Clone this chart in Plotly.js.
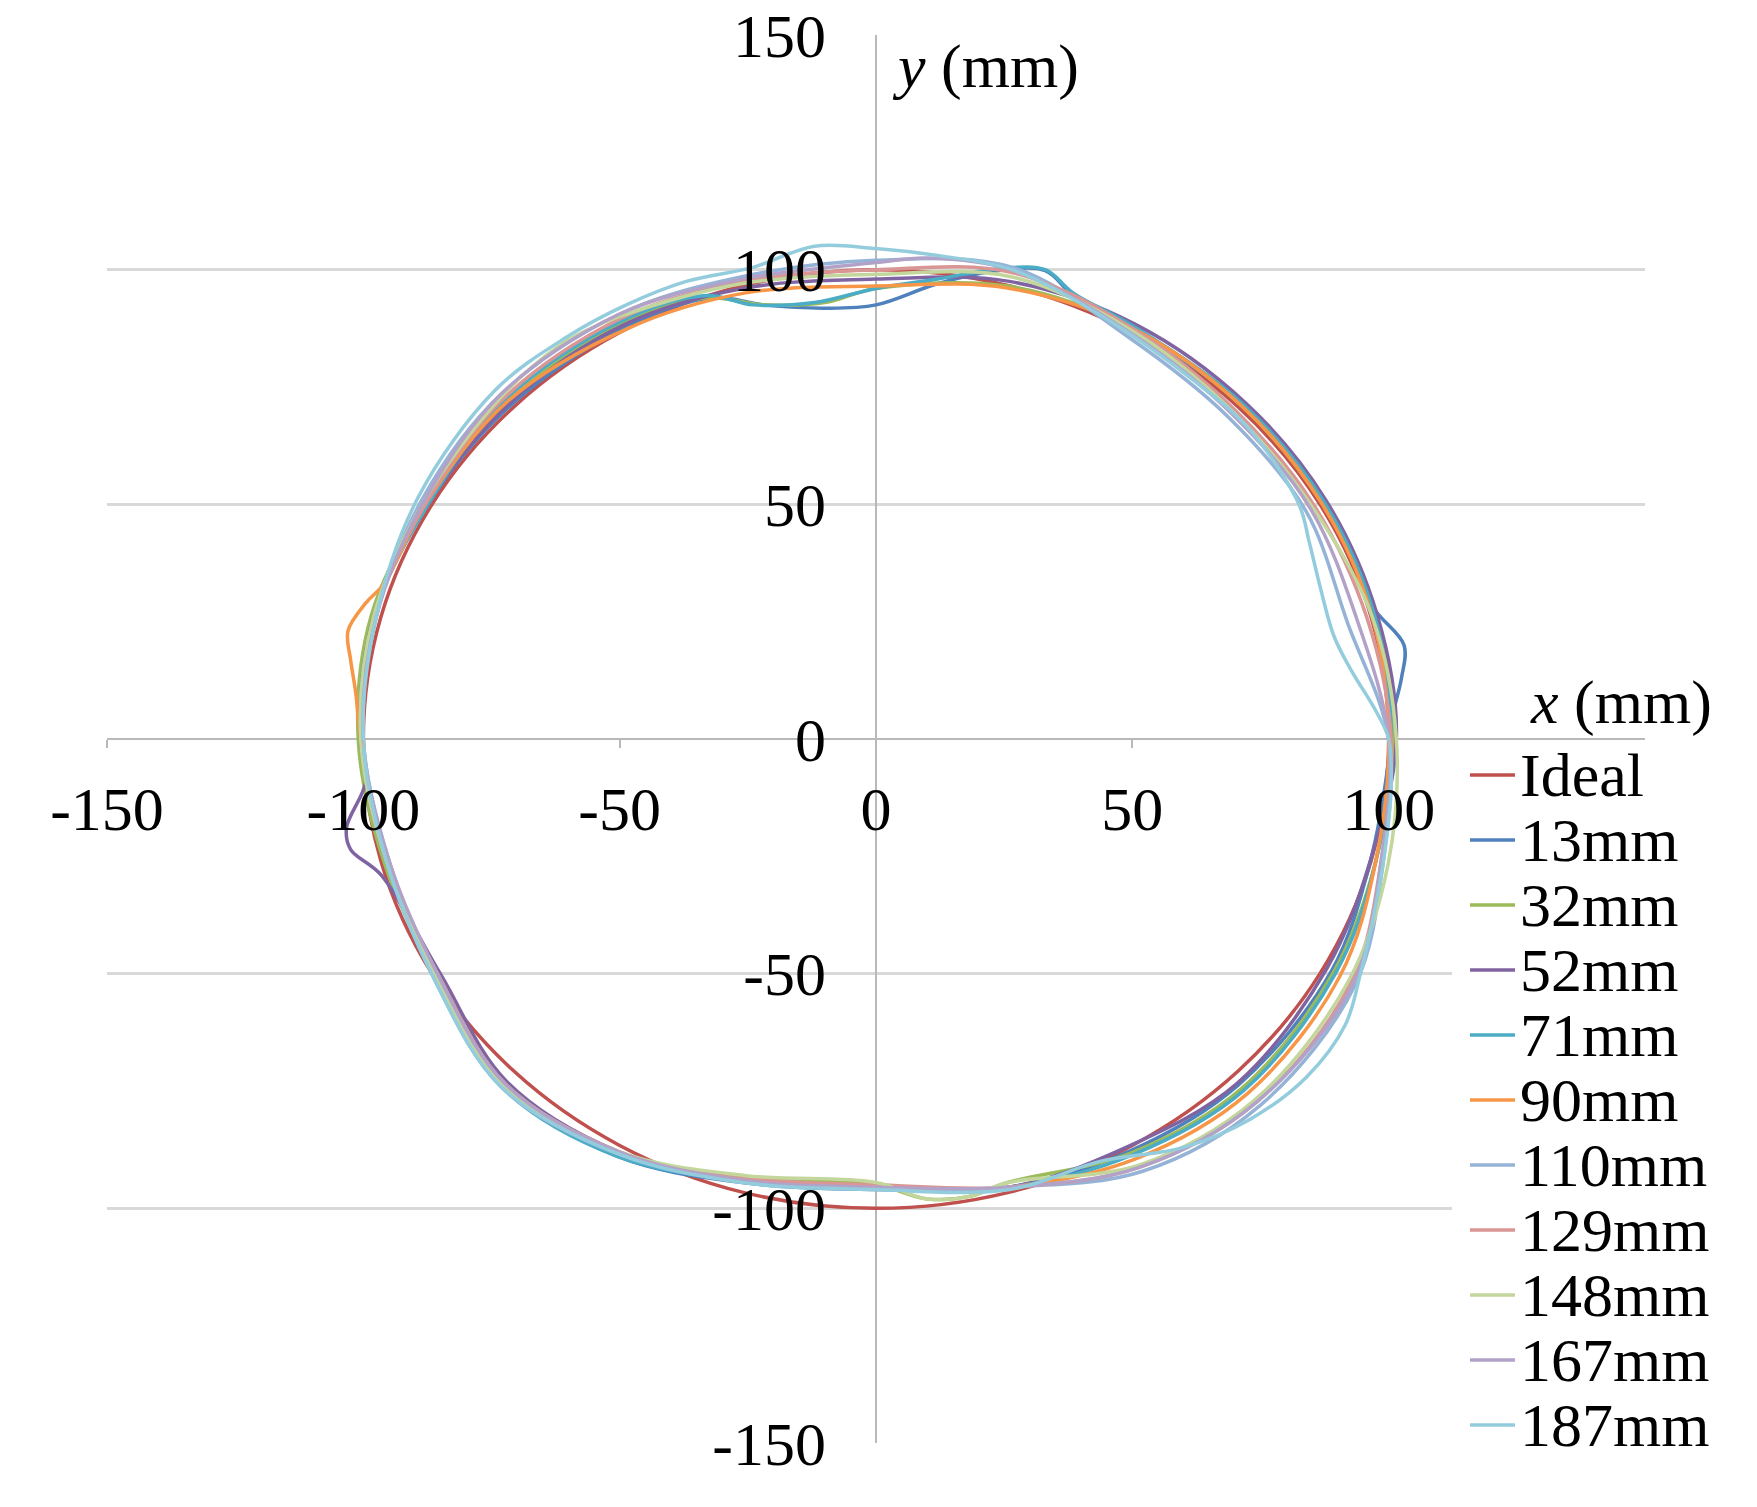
<!DOCTYPE html>
<html>
<head>
<meta charset="utf-8">
<script src="https://cdn.plot.ly/plotly-3.0.1.min.js"></script>
<style>body{margin:0;background:#fff}</style>
</head>
<body>
<div id="chart" style="width:1757px;height:1507px"></div>
<script>
var seriesNames = ["Ideal", "13mm", "32mm", "52mm", "71mm", "90mm", "110mm", "129mm", "148mm", "167mm", "187mm"];
var seriesColors = ["#C0504D", "#4F81BD", "#9BBB59", "#8064A2", "#4BACC6", "#F79646", "#95B3D7", "#D99694", "#C3D69B", "#B3A2C7", "#93CDDD"];

var idealX = [100, 96.6, 86.6, 70.7, 50, 25.9, 0, -25.9, -50, -70.7, -86.6, -96.6, -100, -96.6, -86.6, -70.7, -50, -25.9, 0, 25.9, 50, 70.7, 86.6, 96.6, 100];
var idealY = [0, 25.9, 50, 70.7, 86.6, 96.6, 100, 96.6, 86.6, 70.7, 50, 25.9, 0, -25.9, -50, -70.7, -86.6, -96.6, -100, -96.6, -86.6, -70.7, -50, -25.9, 0];

var mm13X = [100.5, 100.8, 102.5, 103, 97, 93.2, 87.4, 71.7, 50, 38.5, 33, 24, 12, 0, -10, -22, -32, -48.8, -71.2, -87.2, -98, -100.5, -95.5, -85.4, -72.7, -50.5, -26.1, 0, 26, 49.5, 70.7, 88.8, 96.5, 100.5];
var mm13Y = [0, 5, 13, 20, 28, 38.5, 50.5, 71.2, 87.5, 94.5, 99.8, 99.8, 97, 92.5, 91.8, 92.5, 94, 87.8, 71.2, 50.3, 26, 0, -26, -50.3, -73.7, -88.9, -94.5, -96, -95.5, -87.8, -73.7, -49.5, -25.7, 0];

var mm32X = [101, 97.3, 86.9, 71.4, 50, 25.7, 0, -10, -22, -33, -49.3, -71.9, -87.6, -98.5, -101, -96, -85.9, -72.7, -50.3, -25.9, 0, 10, 18, 25.7, 49.8, 71.4, 89.2, 97.5, 101];
var mm32Y = [0, 26.1, 50.3, 70.9, 87.5, 96.5, 96, 93, 92.5, 94, 88.7, 71.9, 50.6, 26.1, 0, -26.1, -50.5, -73.7, -88.4, -93.5, -95, -98, -97.5, -94.5, -88.2, -74.4, -49.8, -26, 0];

var mm52X = [101.5, 97.8, 87.8, 72.1, 50.5, 26, 0, -26, -49.1, -71.5, -87.2, -98, -100.5, -99.5, -103.3, -102.5, -96.5, -85, -72, -50, -26, 0, 26, 49, 70.4, 87.9, 96.5, 101.5];
var mm52Y = [0, 26.3, 50.8, 71.6, 88.4, 97.5, 98, 96, 88.3, 71.5, 50.3, 26, 0, -9, -19, -23.5, -29, -50, -73, -88, -94, -95.5, -95.5, -86.9, -73.4, -49, -25.7, 0];

var mm71X = [100.5, 97.3, 87.4, 71.7, 50.3, 38.5, 33, 24, 12, 0, -12, -24, -33, -49.6, -72.3, -87.2, -98, -100.5, -95.5, -86.3, -73.1, -50.5, -26, 0, 26, 50, 71.8, 89.6, 97.5, 100.5];
var mm71Y = [0, 26.1, 50.5, 71.2, 87.9, 95, 100, 100.2, 98, 96, 93, 92.5, 94.5, 89.1, 72.3, 50.3, 26, 0, -26, -50.8, -74.1, -88.9, -94, -95.5, -95.5, -88.6, -74.8, -50, -26, 0];

var mm90X = [100, 96.8, 86.9, 71.4, 50, 25.6, 0, -25.7, -48.6, -71.9, -87.6, -96, -99.5, -103, -102.5, -101.5, -100.5, -95.5, -85.4, -72.4, -50, -26, 0, 26, 50.5, 72.5, 90.5, 97.5, 100];
var mm90Y = [0, 26, 50.3, 70.9, 87.5, 96.1, 96.5, 95, 87.4, 71.9, 50.6, 33, 29, 23, 17, 10, 0, -26, -50.3, -73.4, -88, -94, -95.5, -95.5, -89.5, -75.5, -50.5, -26, 0];

var mm110X = [100, 92, 83.9, 68.9, 49, 26.8, 0, -26.6, -50.3, -73.3, -88.5, -97.5, -100, -95, -85.9, -73.1, -50.3, -26, 0, 26, 52, 75, 93.5, 98.9, 100];
var mm110Y = [0, 24.7, 48.5, 68.4, 85.8, 100.4, 102, 98.4, 90.4, 73.3, 51.1, 25.9, 0, -25.9, -50.5, -74.1, -88.4, -94, -96, -95.5, -92.1, -78, -52.3, -26.4, 0];

var mm129X = [100.5, 95.8, 85.6, 70.3, 50, 26.5, 0, -26.4, -49.8, -72.6, -87.6, -98, -100.5, -95.5, -85.4, -72.4, -50, -25.9, 0, 26, 51.5, 74.3, 92.7, 98.5, 100.5];
var mm129Y = [0, 25.7, 49.5, 69.8, 87.5, 99.4, 100, 97.4, 89.6, 72.6, 50.6, 26, 0, -26, -50.3, -73.4, -88, -93.5, -95, -95.5, -91.2, -77.3, -51.8, -26.3, 0];

var mm148X = [101.5, 96.8, 85.2, 69.9, 49.8, 26.3, 0, -26.3, -50.1, -56, -62.2, -73, -88.1, -98, -100.5, -95.5, -85.9, -72.7, -50, -25.7, 0, 10, 18, 25.7, 51.3, 73.9, 92.2, 99.9, 101.5];
var mm148Y = [0, 26, 49.3, 69.4, 87.1, 98.5, 99, 97, 90, 87.3, 83.5, 73, 50.8, 26, 0, -26, -50.5, -73.7, -88, -93, -94.5, -98, -97.5, -94.5, -90.8, -76.9, -51.5, -26.6, 0];

var mm167X = [100, 93.9, 84.8, 69.6, 49.5, 26.6, 10, 0, -26.5, -50.3, -73.3, -88.1, -97.5, -100, -95, -85.4, -72.4, -50, -26, 0, 26, 51.5, 74.3, 93.1, 98.5, 100];
var mm167Y = [0, 25.2, 49, 69.1, 86.6, 99.9, 102.5, 101.5, 97.9, 90.4, 73.3, 50.8, 25.9, 0, -25.9, -50.3, -73.4, -88, -94, -95.5, -95.5, -91.2, -77.3, -52, -26.3, 0];

var mm187X = [100, 97.7, 92.5, 89.3, 86.5, 84.5, 82.5, 73, 63, 45, 26.5, 12, 0, -12, -24, -37, -48.5, -60.4, -74.3, -89.3, -97.5, -100, -95.5, -86.3, -73.1, -50.3, -26.1, 0, 26.1, 43.7, 60, 73, 84, 91.5, 94.5, 97, 99, 100.5, 100];
var mm187Y = [0, 5.6, 15, 22, 33, 42, 50, 65.8, 75.5, 89.5, 100, 103, 104.5, 105, 100.5, 97.5, 92.6, 85.6, 74.3, 51.5, 25.9, 0, -26, -50.8, -74.1, -88.4, -94.5, -96, -96, -90, -87, -81, -72, -61, -50, -38, -26, -10, 0];

var xTickVals = [-150, -100, -50, 0, 50, 100];
var xTickText = ["-150", "-100", "-50", "0", "50", "100"];
var yTickVals = [-150, -100, -50, 0, 50, 100, 150];
var yTickText = ["-150", "-100", "-50", "0", "50", "100", "150"];

var xValues = [idealX, mm13X, mm32X, mm52X, mm71X, mm90X, mm110X, mm129X, mm148X, mm167X, mm187X];
var yValues = [idealY, mm13Y, mm32Y, mm52Y, mm71Y, mm90Y, mm110Y, mm129Y, mm148Y, mm167Y, mm187Y];

var serif = "Liberation Serif, Times New Roman, serif";

var data = [];
for (var i = 0; i < seriesNames.length; i++) {
    data.push({
        x: xValues[i],
        y: yValues[i],
        name: seriesNames[i],
        mode: 'lines',
        type: 'scatter',
        line: { color: seriesColors[i], width: 3.5, shape: 'spline', smoothing: 1 },
        showlegend: false
    });
}

// plot box in pixels, used to place the hand-made legend
var W = 1757, H = 1507;
var mL = 107, mR = 112, mT = 35, mB = 64;
var plotW = W - mL - mR, plotH = H - mT - mB;
function px2x(p) { return (p - mL) / plotW; }
function px2y(p) { return 1 - (p - mT) / plotH; }

var shapes = [{
    type: 'rect', xref: 'paper', yref: 'paper', layer: 'above',
    x0: px2x(1452), x1: 1.02, y0: -0.02, y1: px2y(752),
    fillcolor: '#ffffff', line: { width: 0 }
}];
var annotations = [
    { text: '<i>y</i> (mm)', xref: 'paper', yref: 'paper', x: px2x(890), y: px2y(67),
      xanchor: 'left', yanchor: 'middle', showarrow: false, font: { family: serif, size: 62, color: '#000' } },
    { text: '<i>x</i> (mm)', xref: 'paper', yref: 'paper', x: px2x(1528), y: px2y(703),
      xanchor: 'left', yanchor: 'middle', showarrow: false, font: { family: serif, size: 62, color: '#000' } }
];
for (var k = 0; k < seriesNames.length; k++) {
    var ly = px2y(775 + 65 * k);
    shapes.push({
        type: 'line', xref: 'paper', yref: 'paper', layer: 'above',
        x0: px2x(1470), x1: px2x(1515), y0: ly, y1: ly,
        line: { color: seriesColors[k], width: 3.5 }
    });
    annotations.push({
        text: seriesNames[k], xref: 'paper', yref: 'paper', x: px2x(1518), y: ly,
        xanchor: 'left', yanchor: 'middle', showarrow: false,
        font: { family: serif, size: 62, color: '#000' }
    });
}

var layout = {
    width: W, height: H,
    margin: { l: mL, r: mR, t: mT, b: mB },
    paper_bgcolor: '#fff', plot_bgcolor: '#fff',
    font: { family: serif, size: 62, color: '#000' },
    xaxis: {
        range: [-150, 150], anchor: 'free', position: 0.5,
        tickmode: 'array', tickvals: xTickVals, ticktext: xTickText,
        showgrid: false, zeroline: true, zerolinecolor: '#b9b9b9', zerolinewidth: 2.5,
        showline: false, ticks: 'outside', ticklen: 8, tickwidth: 2, tickcolor: '#b9b9b9',
        ticklabelstandoff: 8, tickfont: { family: serif, size: 62, color: '#000' }
    },
    yaxis: {
        range: [-150, 150], anchor: 'free', position: 0.5,
        tickmode: 'array', tickvals: yTickVals, ticktext: yTickText,
        showgrid: true, gridcolor: '#d9d9d9', gridwidth: 2.5,
        zeroline: true, zerolinecolor: '#b9b9b9', zerolinewidth: 2.5,
        showline: false, ticks: '', ticklabelstandoff: 50,
        tickfont: { family: serif, size: 62, color: '#000' }
    },
    shapes: shapes,
    annotations: annotations,
    showlegend: false
};

Plotly.newPlot(document.getElementById('chart'), data, layout, { staticPlot: true, displayModeBar: false });
</script>
</body>
</html>
